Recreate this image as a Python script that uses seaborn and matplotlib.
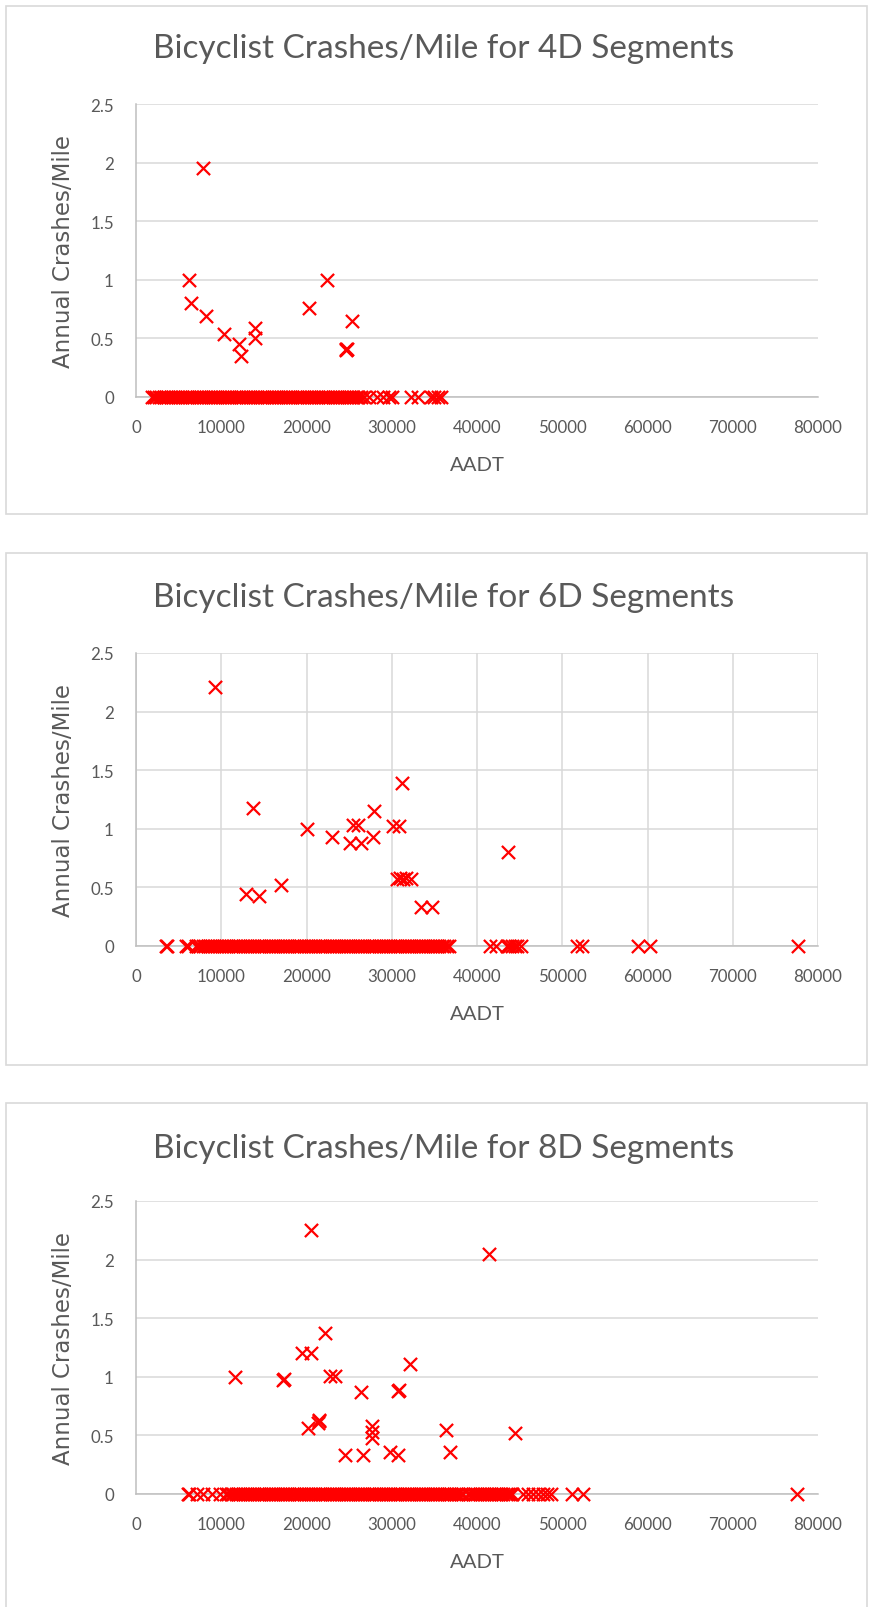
import pandas as pd
import matplotlib
matplotlib.use("Agg")
import matplotlib.pyplot as plt
from matplotlib.patches import Rectangle
import seaborn as sns

# ---- data ----
# points with crashes > 0 (AADT, crashes/mile)
aadt_4d = [7900, 6250, 6450, 8200, 10300, 12100, 12350, 14000, 14000, 20250,
           22450, 25350, 24650, 24700, 24600]
rate_4d = [1.95, 1.0, 0.8, 0.69, 0.54, 0.45, 0.35, 0.59, 0.5, 0.76,
           1.0, 0.65, 0.41, 0.41, 0.40]

aadt_6d = [9250, 13700, 12950, 14450, 17000, 20100, 22950, 25100, 26450, 25500,
           26050, 27900, 27850, 30150, 30850, 31250, 30600, 31000, 31300, 31700,
           32200, 33400, 34750, 43650]
rate_6d = [2.21, 1.18, 0.44, 0.43, 0.52, 1.0, 0.93, 0.88, 0.88, 1.03,
           1.03, 1.15, 0.93, 1.02, 1.02, 1.39, 0.57, 0.58, 0.57, 0.58,
           0.57, 0.33, 0.33, 0.80]

aadt_8d = [20500, 41400, 11600, 17300, 17400, 19500, 20500, 22150, 22750, 23300,
           26400, 30700, 30800, 32150, 20200, 21300, 21450, 21500, 24500, 26650,
           27700, 27650, 27700, 29850, 30750, 36350, 36800, 44400]
rate_8d = [2.25, 2.05, 1.0, 0.97, 0.98, 1.2, 1.2, 1.37, 1.01, 1.01,
           0.87, 0.88, 0.89, 1.11, 0.56, 0.61, 0.62, 0.63, 0.33, 0.33,
           0.58, 0.53, 0.48, 0.36, 0.33, 0.55, 0.36, 0.52]

# segments with zero crashes (AADT only)
zero_4d = [1900, 2150, 2400, 2700, 2950, 3250, 3500, 3800, 4050, 4350, 4600, 4900,
           5150, 5450, 5700, 6000, 6250, 6550, 6800, 7100, 7350, 7650, 7900, 8200,
           8450, 8750, 9000, 9300, 9550, 9850, 10100, 10400, 10650, 10950, 11200,
           11500, 11750, 12050, 12300, 12600, 12850, 13150, 13400, 13700, 13950,
           14250, 14500, 14800, 15050, 15350, 15600, 15900, 16150, 16450, 16700,
           17000, 17250, 17550, 17800, 18100, 18350, 18650, 18900, 19200, 19450,
           19750, 20000, 20300, 20550, 20850, 21100, 21400, 21650, 21950, 22200,
           22500, 22750, 23050, 23300, 23600, 23850, 24150, 24400, 24700, 24950,
           25250, 25500, 25800, 26050, 26350, 26700,
           27300, 28300, 29000, 29700, 30000, 32200, 33100, 34600, 35000, 35400, 35800]

zero_6d = [3500, 3650, 5900, 6150,
           7000, 7300, 7550, 7850, 8100, 8400, 8650, 8950, 9200, 9500, 9750, 10050,
           10300, 10600, 10850, 11150, 11400, 11700, 11950, 12250, 12500, 12800,
           13050, 13350, 13600, 13900, 14150, 14450, 14700, 15000, 15250, 15550,
           15800, 16100, 16350, 16650, 16900, 17200, 17450, 17750, 18000, 18300,
           18550, 18850, 19100, 19400, 19650, 19950, 20200, 20500, 20750, 21050,
           21300, 21600, 21850, 22150, 22400, 22700, 22950, 23250, 23500, 23800,
           24050, 24350, 24600, 24900, 25150, 25450, 25700, 26000, 26250, 26550,
           26800, 27100, 27350, 27650, 27900, 28200, 28450, 28750, 29000, 29300,
           29550, 29850, 30100, 30400, 30650, 30950, 31200, 31500, 31750, 32050,
           32300, 32600, 32850, 33150, 33400, 33700, 33950, 34250, 34500, 34800,
           35050, 35350, 35600, 35900, 36150, 36450, 36700,
           41500, 42200, 43500, 43800, 44100, 44400, 44700, 45200, 51700, 52300,
           58900, 60300, 77600]

zero_8d = [6050, 6200, 7200, 7900, 8900, 9800,
           10600, 10850, 11150, 11400, 11700, 11950, 12250, 12500, 12800, 13050,
           13350, 13600, 13900, 14150, 14450, 14700, 15000, 15250, 15550, 15800,
           16100, 16350, 16650, 16900, 17200, 17450, 17750, 18000, 18300, 18550,
           18850, 19100, 19400, 19650, 19950, 20200, 20500, 20750, 21050, 21300,
           21600, 21850, 22150, 22400, 22700, 22950, 23250, 23500, 23800, 24050,
           24350, 24600, 24900, 25150, 25450, 25700, 26000, 26250, 26550, 26800,
           27100, 27350, 27650, 27900, 28200, 28450, 28750, 29000, 29300, 29550,
           29850, 30100, 30400, 30650, 30950, 31200, 31500, 31750, 32050, 32300,
           32600, 32850, 33150, 33400, 33700, 33950, 34250, 34500, 34800, 35050,
           35350, 35600, 35900, 36150, 36450, 36700, 37000, 37250, 37550, 37800,
           38100, 38350, 38900, 39200, 39500, 39750, 40050, 40300, 40600, 40850,
           41150, 41400, 41700, 41950, 42250, 42500, 42800, 43050, 43350, 43600,
           43900, 44100,
           45400, 46000, 46600, 47200, 47700, 48200, 48700, 51200, 52400, 77500]

titles = ["Bicyclist Crashes/Mile for 4D Segments",
          "Bicyclist Crashes/Mile for 6D Segments",
          "Bicyclist Crashes/Mile for 8D Segments"]
x_ticks = [0, 10000, 20000, 30000, 40000, 50000, 60000, 70000, 80000]
y_ticks = [0, 0.5, 1, 1.5, 2, 2.5]
y_labels = ["0", "0.5", "1", "1.5", "2", "2.5"]

sns.set_style("white")
plt.rcParams["font.family"] = ["Lato", "DejaVu Sans"]

GRAY = "#595959"
GRID = "#d9d9d9"


def make_df(aadt, rate, zeros):
    return pd.DataFrame({"AADT": aadt + zeros,
                         "Crashes": rate + [0.0] * len(zeros)})


fig = plt.figure(figsize=(8.69, 16.08), dpi=100)

# panel boxes (pixel rows from top)
boxes = [(7, 515), (554, 1066), (1104, 1625)]
for top, bot in boxes:
    fig.add_artist(Rectangle((6 / 869, 1 - bot / 1608), 861 / 869, (bot - top) / 1608,
                             transform=fig.transFigure, fill=False,
                             edgecolor=GRID, lw=1.2))

panels = [
    (make_df(aadt_4d, rate_4d, zero_4d), 398, 49, False),
    (make_df(aadt_6d, rate_6d, zero_6d), 947, 598, True),
    (make_df(aadt_8d, rate_8d, zero_8d), 1495, 1149, False),
]

for i, (df, ax_bot, title_y, vgrid) in enumerate(panels):
    ax = fig.add_axes([136 / 869, 1 - ax_bot / 1608, 682 / 869, 293 / 1608])
    sns.scatterplot(data=df, x="AADT", y="Crashes", ax=ax, marker="x",
                    color="#ff0000", s=90, linewidth=1.6, clip_on=False, zorder=5)
    ax.set_xlim(0, 80000)
    ax.set_ylim(0, 2.5)
    ax.set_xticks(x_ticks)
    ax.set_xticklabels([str(v) for v in x_ticks])
    ax.set_yticks(y_ticks)
    ax.set_yticklabels(y_labels)
    ax.tick_params(length=0, labelsize=12.2, labelcolor=GRAY)
    ax.tick_params(axis="y", pad=16)
    ax.tick_params(axis="x", pad=16)

    ax.grid(axis="y", color=GRID, lw=1.1)
    if vgrid:
        ax.grid(axis="x", color=GRID, lw=1.1)
    ax.set_axisbelow(True)
    for side in ["top", "right"]:
        ax.spines[side].set_visible(False)
    for side in ["left", "bottom"]:
        ax.spines[side].set_color("#bfbfbf")
        ax.spines[side].set_linewidth(1.1)

    ax.set_xlabel("AADT", fontsize=14.6, color=GRAY)
    ax.xaxis.set_label_coords(0.5, -(466 - 398) / 293)
    ax.xaxis.label.set_va("center")
    ax.set_ylabel("Annual Crashes/Mile", fontsize=16.5, color=GRAY,
                  family="DejaVu Sans")
    ax.yaxis.set_label_coords(-73 / 682, 0.5)
    ax.yaxis.label.set_va("center")

    fig.text(444 / 869, 1 - title_y / 1608, titles[i], fontsize=24, color=GRAY,
             ha="center", va="center")

fig.savefig("out.png", dpi=100, facecolor="white")
